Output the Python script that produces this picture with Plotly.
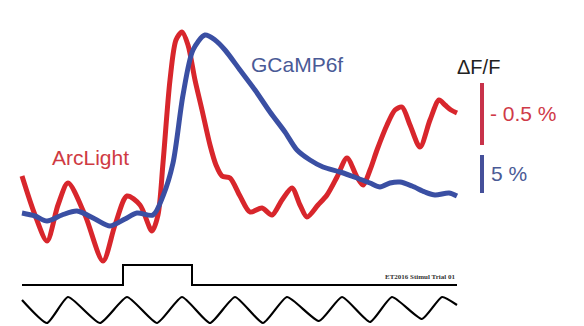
import plotly.graph_objects as go

# ArcLight trace (time px, value px; y grows downward)
arc_t = [22, 35, 47, 58, 68, 85, 103, 115, 127, 140, 152, 158, 163, 170, 176, 182, 188, 195, 202, 210, 216, 222, 230, 240, 250, 262, 272, 282, 292, 300, 307, 318, 327, 337, 347, 357, 363, 370, 377, 387, 395, 402, 410, 420, 430, 439, 445, 451, 457]
arc_v = [176, 215, 241, 205, 183, 215, 261, 225, 196, 205, 231, 215, 163, 80, 40, 32, 45, 80, 110, 145, 165, 176, 178, 196, 212, 208, 215, 200, 188, 205, 217, 205, 195, 177, 158, 177, 185, 170, 150, 125, 110, 107, 125, 147, 120, 100, 105, 110, 113]

# GCaMP6f trace
gc_t = [22, 35, 47, 62, 77, 95, 110, 125, 137, 153, 163, 173, 183, 193, 205, 215, 225, 240, 255, 270, 285, 297, 310, 323, 340, 357, 370, 380, 390, 400, 412, 425, 435, 449, 457]
gc_v = [213, 216, 221, 215, 211, 219, 226, 219, 213, 215, 196, 163, 95, 50, 35, 40, 50, 70, 90, 112, 132, 150, 160, 167, 172, 178, 183, 187, 183, 182, 186, 192, 195, 193, 196]

# stimulus step
stim_t = [22, 123, 123, 192, 192, 457]
stim_v = [285, 285, 265, 265, 285, 285]

# oscillating reference trace (peaks / troughs)
osc_t = [22, 47, 68, 100, 127, 157, 182, 210, 235, 263, 287, 319, 342, 370, 392, 422, 442, 457]
osc_v = [300, 323, 297, 323, 297, 323, 297, 323, 297, 323, 297, 321, 297, 322, 297, 319, 297, 305]

# scale bars
red_bar_t = [482, 482]
red_bar_v = [83, 145]
blue_bar_t = [482, 482]
blue_bar_v = [155, 193]

RED = "#d8262c"
BLUE = "#3a4fa3"

fig = go.Figure()
fig.add_trace(go.Scatter(x=arc_t, y=arc_v, mode="lines",
                         line=dict(color=RED, width=5, shape="spline", smoothing=0.8)))
fig.add_trace(go.Scatter(x=gc_t, y=gc_v, mode="lines",
                         line=dict(color=BLUE, width=5, shape="spline", smoothing=0.8)))
fig.add_trace(go.Scatter(x=stim_t, y=stim_v, mode="lines",
                         line=dict(color="black", width=2)))
fig.add_trace(go.Scatter(x=osc_t, y=osc_v, mode="lines",
                         line=dict(color="black", width=2.2, shape="spline", smoothing=0.5)))
fig.add_trace(go.Scatter(x=red_bar_t, y=red_bar_v, mode="lines",
                         line=dict(color="#c8324a", width=4)))
fig.add_trace(go.Scatter(x=blue_bar_t, y=blue_bar_v, mode="lines",
                         line=dict(color="#45509a", width=4)))

font = "Liberation Sans, Arial, sans-serif"
anns = [
    dict(x=50, y=157, text="ArcLight", color="#cf3a42", size=21, xanchor="left"),
    dict(x=249, y=64, text="GCaMP6f", color="#4a5a96", size=21, xanchor="left"),
    dict(x=455, y=67, text="ΔF/F", color="#222222", size=20, xanchor="left"),
    dict(x=488, y=113, text="- 0.5 %", color="#cf3a48", size=21, xanchor="left"),
    dict(x=489, y=173, text="5 %", color="#4a5a96", size=21, xanchor="left"),
]
for a in anns:
    fig.add_annotation(x=a["x"], y=a["y"], xref="x", yref="y", text=a["text"],
                       showarrow=False, xanchor=a["xanchor"], yanchor="middle",
                       font=dict(family=font, size=a["size"], color=a["color"]))
fig.add_annotation(x=457, y=277, xref="x", yref="y", text="<b>ET2016 Stimul Trial 01</b>",
                   showarrow=False, xanchor="right", yanchor="middle",
                   font=dict(family="Liberation Serif, serif", size=7, color="#333333"))

fig.update_layout(
    width=584, height=326, margin=dict(l=0, r=0, t=0, b=0),
    paper_bgcolor="white", plot_bgcolor="white", showlegend=False,
    xaxis=dict(range=[0, 584], visible=False, fixedrange=True),
    yaxis=dict(range=[326, 0], visible=False, fixedrange=True),
)
fig.write_html("out.html", config={"displayModeBar": False})
